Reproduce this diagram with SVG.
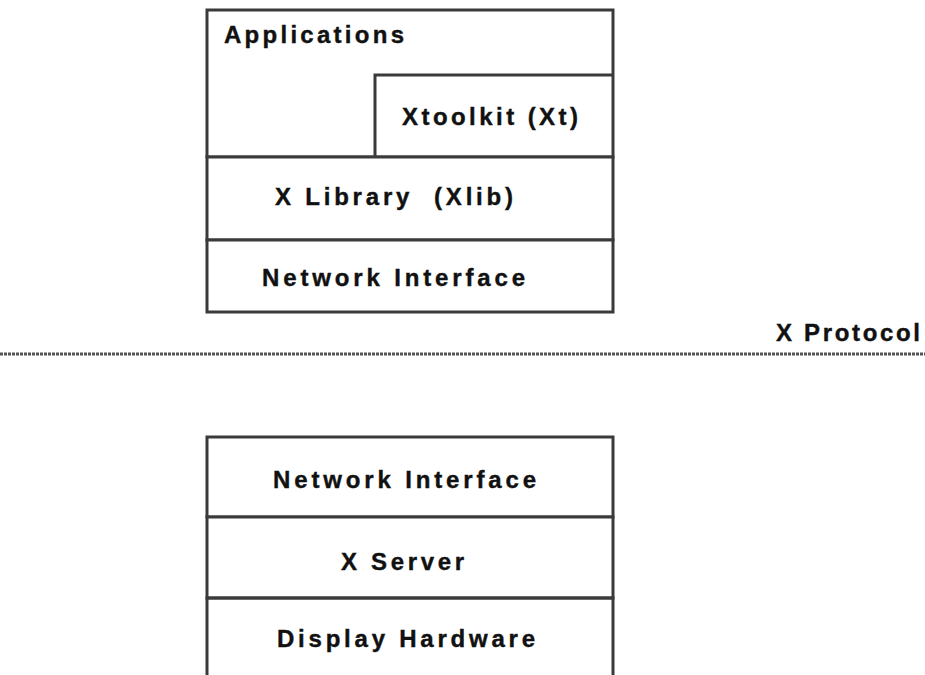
<svg xmlns="http://www.w3.org/2000/svg" width="925" height="675" viewBox="0 0 925 675">
<style>
.box{fill:#fff;stroke:#3a3a3a;stroke-width:3}
.ln{stroke:#3a3a3a;stroke-width:3;fill:none}
.t{font-family:"Liberation Sans",Arial,sans-serif;font-weight:bold;font-size:24px;fill:#111;stroke:#111;stroke-width:0.4}
</style>
<rect width="925" height="675" fill="#fff"/>
<g id="client">
<g id="applications">
<rect class="box" x="207" y="10" width="406" height="147"/>
<text class="t" x="224" y="43" textLength="180" lengthAdjust="spacing">Applications</text>
</g>
<g id="xtoolkit">
<polyline class="ln" points="375,157 375,75 613,75"/>
<text class="t" x="402" y="125" textLength="176" lengthAdjust="spacing">Xtoolkit (Xt)</text>
</g>
<g id="xlib">
<rect class="box" x="207" y="157" width="406" height="83"/>
<text class="t" x="275" y="205" textLength="238" lengthAdjust="spacing" xml:space="preserve">X Library  (Xlib)</text>
</g>
<g id="client-net">
<rect class="box" x="207" y="240" width="406" height="72"/>
<text class="t" x="262" y="286" textLength="263" lengthAdjust="spacing">Network Interface</text>
</g>
</g>
<g id="protocol">
<line x1="0" y1="354" x2="925" y2="354" stroke="#555" stroke-width="3" stroke-dasharray="3,1"/>
<text class="t" x="776" y="341" textLength="144" lengthAdjust="spacing">X Protocol</text>
</g>
<g id="server">
<g id="server-net">
<rect class="box" x="207" y="437" width="406" height="80"/>
<text class="t" x="273" y="488" textLength="263" lengthAdjust="spacing">Network Interface</text>
</g>
<g id="xserver">
<rect class="box" x="207" y="517" width="406" height="81"/>
<text class="t" x="341" y="570" textLength="123" lengthAdjust="spacing">X Server</text>
</g>
<g id="hardware">
<polyline class="ln" points="207,680 207,598 613,598 613,680"/>
<text class="t" x="277" y="647" textLength="258" lengthAdjust="spacing">Display Hardware</text>
</g>
</g>
<g id="connectors"></g>
</svg>
